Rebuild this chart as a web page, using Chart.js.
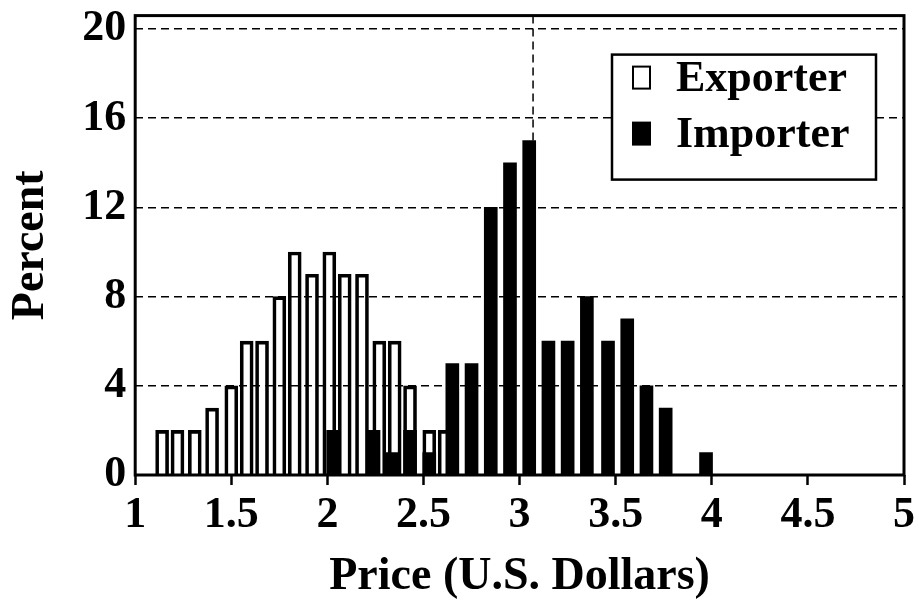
<!DOCTYPE html>
<html>
<head>
<meta charset="utf-8">
<script src="https://cdn.jsdelivr.net/npm/chart.js@4.4.1/dist/chart.umd.min.js"></script>
<style>
  html, body { margin: 0; padding: 0; background: #fff; }
  #wrap { width: 919px; height: 605px; }
</style>
</head>
<body>
<div id="wrap"><canvas id="priceChart"></canvas></div>
<script>
// price bins (U.S. $) and percent of transactions
const exporterPrice = [1.14, 1.22, 1.31, 1.40, 1.50, 1.58, 1.66, 1.75, 1.83, 1.92, 2.01, 2.09, 2.18, 2.27, 2.35, 2.43, 2.53, 2.61];
const exporterPct = [2, 2, 2, 3, 4, 6, 6, 8, 10, 9, 10, 9, 9, 6, 6, 4, 2, 2];
const importerPrice = [2.03, 2.24, 2.34, 2.43, 2.53, 2.65, 2.75, 2.85, 2.95, 3.05, 3.15, 3.25, 3.35, 3.46, 3.56, 3.66, 3.76, 3.97];
const importerPct = [2, 2, 1, 2, 1, 5, 5, 12, 14, 15, 6, 6, 8, 6, 7, 4, 3, 1];
const xTicks = [1, 1.5, 2, 2.5, 3, 3.5, 4, 4.5, 5];
const yTicks = [0, 4, 8, 12, 16, 20];
const markPrice = 3.07; // dashed vertical reference line

const serif = "'Liberation Serif', 'Times New Roman', serif";
const tickFont = { family: serif, size: 44, weight: 'bold' };
const titleFont = { family: serif, size: 46, weight: 'bold' };

const pairs = (xs, ys) => xs.map((x, i) => ({ x, y: ys[i] }));

// dashed vertical line at markPrice, under the bars
const markLine = {
	id: 'markLine',
	beforeDatasetsDraw(chart) {
		const { ctx, chartArea: a, scales } = chart;
		const px = scales.x.getPixelForValue(markPrice);
		ctx.save();
		ctx.strokeStyle = '#000';
		ctx.lineWidth = 1.5;
		ctx.setLineDash([8, 5]);
		ctx.beginPath();
		ctx.moveTo(px, a.top);
		ctx.lineTo(px, a.bottom);
		ctx.stroke();
		ctx.restore();
	}
};

// black box round the plot area
const frame = {
	id: 'frame',
	afterDatasetsDraw(chart) {
		const { ctx, chartArea: a } = chart;
		ctx.save();
		ctx.strokeStyle = '#000';
		ctx.lineWidth = 3;
		ctx.strokeRect(a.left, a.top, a.right - a.left, a.bottom - a.top);
		ctx.restore();
	}
};

// boxed legend in the upper right corner
const boxLegend = {
	id: 'boxLegend',
	afterDraw(chart) {
		const { ctx, chartArea: a } = chart;
		const x = a.right - 292, y = a.top + 39, w = 264, h = 125;
		ctx.save();
		ctx.fillStyle = '#fff';
		ctx.fillRect(x, y, w, h);
		ctx.strokeStyle = '#000';
		ctx.lineWidth = 2.5;
		ctx.strokeRect(x, y, w, h);
		ctx.font = 'bold 44px ' + serif;
		ctx.textBaseline = 'alphabetic';
		chart.data.datasets.forEach((ds, i) => {
			const base = y + 36 + i * 56;
			ctx.fillStyle = ds.legendFill;
			ctx.fillRect(x + 21, base - 24, 17, 22);
			ctx.lineWidth = 2;
			ctx.strokeRect(x + 21, base - 24, 17, 22);
			ctx.fillStyle = '#000';
			ctx.fillText(ds.label, x + 64, base);
		});
		ctx.restore();
	}
};

new Chart(document.getElementById('priceChart'), {
	type: 'bar',
	data: {
		datasets: [
			{
				label: 'Exporter',
				data: pairs(exporterPrice, exporterPct),
				backgroundColor: 'rgba(255,255,255,0)',
				legendFill: '#fff',
				borderColor: '#000',
				borderWidth: 3,
				barThickness: 13,
				grouped: false,
				order: 1
			},
			{
				label: 'Importer',
				data: pairs(importerPrice, importerPct),
				backgroundColor: '#000',
				legendFill: '#000',
				borderWidth: 0,
				barThickness: 13,
				grouped: false,
				order: 0
			}
		]
	},
	options: {
		responsive: true,
		maintainAspectRatio: false,
		animation: false,
		layout: { padding: { top: 7, right: 14, left: 0, bottom: 0 } },
		plugins: {
			legend: { display: false },
			tooltip: { enabled: false }
		},
		scales: {
			x: {
				type: 'linear',
				min: 1,
				max: 5,
				offset: false,
				afterBuildTicks: (s) => { s.ticks = xTicks.map((v) => ({ value: v })); },
				grid: {
					offset: false,
					drawOnChartArea: false,
					drawTicks: true,
					tickLength: 10,
					tickColor: '#000',
					tickWidth: 2.5
				},
				border: { display: false },
				ticks: {
					color: '#000',
					font: tickFont,
					padding: 4,
					autoSkip: false,
					maxRotation: 0,
					callback: (v) => String(v)
				},
				title: {
					display: true,
					text: 'Price (U.S. Dollars)',
					color: '#000',
					font: titleFont,
					padding: { top: 4, bottom: 0 }
				}
			},
			y: {
				min: 0,
				max: 20.6,
				afterBuildTicks: (s) => { s.ticks = yTicks.map((v) => ({ value: v })); },
				grid: {
					color: (c) => (c.tick && c.tick.value > 0 ? '#000' : 'rgba(0,0,0,0)'),
					lineWidth: 1.5,
					borderDash: [8, 5],
					drawTicks: false
				},
				border: { display: false, dash: [8, 5] },
				ticks: { color: '#000', font: { ...tickFont, lineHeight: 0.3 }, padding: 9 },
				title: {
					display: true,
					text: 'Percent',
					color: '#000',
					font: titleFont,
					padding: { top: 4, bottom: 14 }
				}
			}
		}
	},
	plugins: [markLine, frame, boxLegend]
});
</script>
</body>
</html>
